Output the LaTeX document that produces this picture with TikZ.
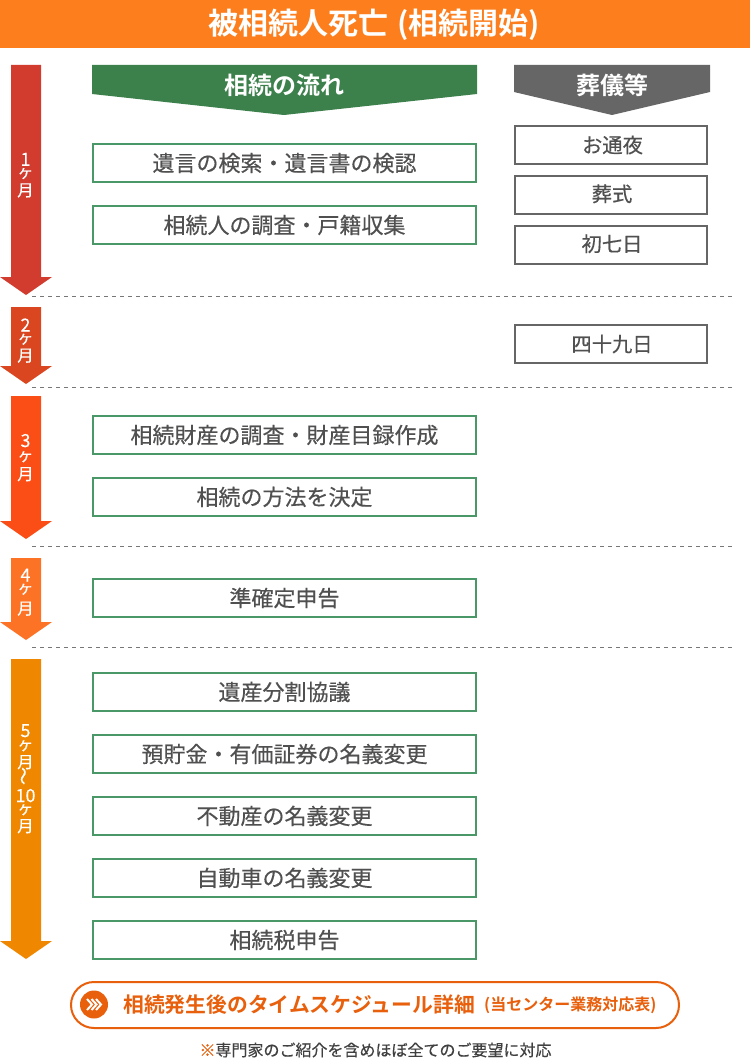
\documentclass[tikz,border=0pt]{standalone}
\usepackage{fontspec}
\usepackage{graphicx}
\setmainfont{Noto Sans CJK JP}
\newfontfamily\cjkm[FakeBold=0.4]{Noto Sans CJK JP}
\newfontfamily\cjkl[FakeBold=0.15]{Noto Sans CJK JP}
\newfontfamily\cjkb[BoldFont={Noto Sans CJK JP Bold}]{Noto Sans CJK JP}
\definecolor{hdr}{HTML}{FD7E1C}
\definecolor{grn}{HTML}{3C804C}
\definecolor{grnb}{HTML}{4A9768}
\definecolor{gry}{HTML}{666666}
\definecolor{txt}{HTML}{505050}
\definecolor{dsh}{HTML}{777777}
\definecolor{orgt}{HTML}{E85F0C}
\definecolor{aone}{HTML}{D13C2F}
\definecolor{atwo}{HTML}{D9461F}
\definecolor{athree}{HTML}{FA4E16}
\definecolor{afour}{HTML}{FD7326}
\definecolor{afive}{HTML}{F08700}
\tikzset{
  flowbox/.style={draw=grnb,line width=2pt,fill=white,minimum width=383pt,minimum height=38pt,inner sep=0pt,text=txt,font=\cjkm\fontsize{22}{22}\selectfont,anchor=center},
  rite/.style={draw=gry,line width=2pt,fill=white,minimum width=192pt,minimum height=38pt,inner sep=0pt,text=txt,font=\cjkm\fontsize{20.3}{20}\selectfont,anchor=center},
  ban/.style={text=white,inner sep=0pt,font=\cjkb\bfseries\fontsize{24}{24}\selectfont},
  mon/.style={text=white,inner sep=0pt,font=\cjkl\fontsize{16}{16}\selectfont},
  sep/.style={dsh,line width=1pt,dash pattern=on 4pt off 4pt},
}
\newcommand{\lift}[1]{\raisebox{#1}}
\newcommand{\rowc}[1]{\hbox to 30pt{\hss\smash{#1}\hss}}
\newcommand{\dgt}[1]{\rowc{\fontsize{18}{18}\selectfont #1}}
\newcommand{\kee}{\rowc{\fontsize{16}{16}\selectfont ヶ}}
\newcommand{\tsuki}{\rowc{\fontsize{16.5}{16.5}\selectfont 月}}
\newcommand{\mstack}[3]{\vbox{\offinterlineskip\dgt{#1}\kern#2pt\kee\kern#3pt\tsuki}}
\newcommand{\mtharrow}[4]{% colour, top, head start, tip
  \fill[#1] (11,#2) -- (41,#2) -- (41,#3) -- (52,#3) -- (26,#4) -- (0,#3) -- (11,#3) -- cycle;}
\begin{document}
\begin{tikzpicture}[x=1pt,y=-1pt]
\useasboundingbox (0,0) rectangle (750,1062);
\fill[white] (0,0) rectangle (750,1062);
% header
\fill[hdr] (0,0) rectangle (750,48);
\node[text=white,inner sep=0pt,font=\cjkb\bfseries\fontsize{30}{30}\selectfont] (title) at (374,24.5) {被相続人死亡\hspace{9pt}(相続開始)};
% separators
\coordinate (s1a) at (32,296.5); \coordinate (s1b) at (732,296.5);
\coordinate (s2a) at (32,387.5); \coordinate (s2b) at (732,387.5);
\coordinate (s3a) at (32,546.5); \coordinate (s3b) at (732,546.5);
\coordinate (s4a) at (32,647.5); \coordinate (s4b) at (732,647.5);
\draw[sep] (s1a) -- (s1b);
\draw[sep] (s2a) -- (s2b);
\draw[sep] (s3a) -- (s3b);
\draw[sep] (s4a) -- (s4b);
% month arrows
\mtharrow{aone}{65}{277}{295}
\mtharrow{atwo}{307}{366}{384}
\mtharrow{athree}{396}{521}{539}
\mtharrow{afour}{558}{622}{640}
\mtharrow{afive}{659}{941}{959}
\node[mon] (m1) at (25.5,181) {\mstack{1}{12}{18.5}};
\node[mon] (m2) at (25.5,346.5) {\mstack{2}{12}{18}};
\node[mon] (m3) at (25.5,463.5) {\mstack{3}{14}{19}};
\node[mon] (m4) at (25.5,598) {\mstack{4}{12}{21}};
\node[mon] (m5) at (25.5,784.5) {\vbox{\offinterlineskip\dgt{5}\kern13pt\kee\kern18pt\tsuki\kern17pt\rowc{\fontsize{18}{18}\cjkm\selectfont\rotatebox{90}{～}}\kern17pt\dgt{10}\kern12pt\kee\kern18pt\tsuki}};
% banners
\fill[grn] (92,65) -- (477,65) -- (477,94) -- (284,115) -- (92,94) -- cycle;
\node[ban] (flow) at (284,85) {相続の流れ};
\fill[gry] (514,65) -- (710,65) -- (710,92) -- (612,115) -- (514,92) -- cycle;
\node[ban] (fun) at (612,85) {葬儀等};
% flow boxes
\node[flowbox] (f1) at (284.5,163) {遺言の検索・遺言書の検認};
\node[flowbox] (f2) at (284.5,225) {相続人の調査・戸籍収集};
\node[flowbox] (f3) at (284.5,435) {相続財産の調査・財産目録作成};
\node[flowbox] (f4) at (284.5,497) {\lift{2pt}{相続の方法を決定}};
\node[flowbox] (f5) at (284.5,598) {\lift{2pt}{準確定申告}};
\node[flowbox] (f6) at (284.5,692) {\lift{2pt}{遺産分割協議}};
\node[flowbox] (f7) at (284.5,754) {\lift{1pt}{預貯金・有価証券の名義変更}};
\node[flowbox] (f8) at (284.5,816) {\lift{2pt}{不動産の名義変更}};
\node[flowbox] (f9) at (284.5,878) {\lift{2pt}{自動車の名義変更}};
\node[flowbox] (f10) at (284.5,940) {相続税申告};
% rite boxes
\node[rite] (r1) at (611,145) {\hspace*{3pt}お通夜};
\node[rite] (r2) at (611,195) {\hspace*{2pt}\lift{4pt}{葬式}};
\node[rite] (r3) at (611,245) {\hspace*{2pt}\lift{4pt}{初七日}};
\node[rite] (r4) at (611,344) {\hspace*{2pt}四十九日};
% button
\draw[orgt,line width=2pt,fill=white,rounded corners=23pt] (71,982) rectangle (679,1028);
\fill[orgt] (94,1004.5) circle (14);
\foreach \d in {-4.5,0,4.5}
  \draw[white,line width=2pt] (94+\d-2.5,999) -- (94+\d+2.5,1004.5) -- (94+\d-2.5,1010);
\node[anchor=west,text=orgt,inner sep=0pt,font=\cjkb\bfseries\fontsize{20.8}{21}\selectfont] (link) at (123,1005) {相続発生後のタイムスケジュール詳細};
\node[anchor=west,text=orgt,inner sep=0pt,font=\cjkb\bfseries\fontsize{16}{16}\selectfont] (linksub) at (484,1005) {(当センター業務対応表)};
% footnote
\node[text=txt,inner sep=0pt,font=\cjkm\fontsize{16}{16}\selectfont] (note) at (375.5,1050) {\textcolor{orgt}{※}\textcolor{black!75}{専門家のご紹介を含めほぼ全てのご要望に対応}};
\end{tikzpicture}
\end{document}
